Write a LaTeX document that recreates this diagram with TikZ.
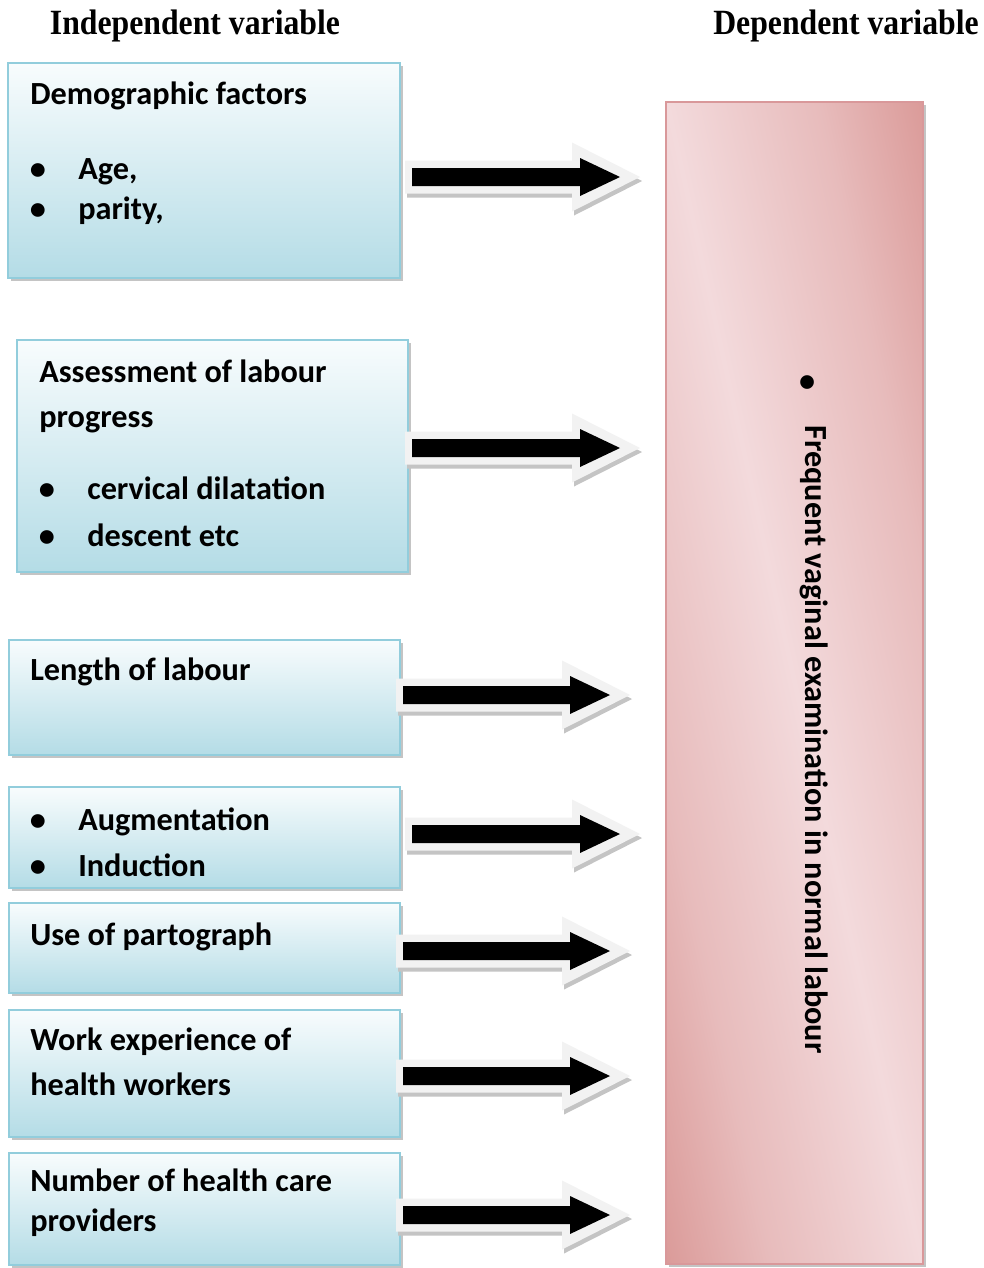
\documentclass[tikz,border=0pt]{standalone}
\usepackage{fontspec}
\setmainfont{Carlito}
\newfontfamily\headfont{Liberation Serif}
\usepackage{graphicx}
\usetikzlibrary{calc,fit,shadows}

\definecolor{boxtop}{HTML}{F8FCFD}
\definecolor{boxbot}{HTML}{B4DCE6}
\definecolor{boxline}{HTML}{92CDDC}
\definecolor{pdark}{HTML}{D99694}
\definecolor{plight}{HTML}{F3DADC}
\definecolor{pline}{HTML}{D9989A}
\definecolor{arrowrim}{HTML}{F2F2F2}
\definecolor{shadowgray}{HTML}{C4C4C4}
\colorlet{pmid}{pdark!45!plight}

\pgfdeclarehorizontalshading{pinkband}{100bp}{color(0bp)=(pdark); color(25bp)=(pdark); color(36bp)=(pmid); color(50bp)=(plight); color(64bp)=(pmid); color(75bp)=(pdark); color(100bp)=(pdark)}

\newcommand{\blockarrow}[2]{%
  \fill[shadowgray] ($(#1)+(2,-12.5)$) -- ($(#2)+(-66,-12.5)$) -- ($(#2)+(-66,-30.5)$) -- ($(#2)+(2,4)$) -- ($(#2)+(-66,38.5)$) -- ($(#2)+(-66,20.5)$) -- ($(#1)+(2,20.5)$) -- cycle;
  \fill[arrowrim] ($(#1)+(0,-16.5)$) -- ($(#2)+(-68,-16.5)$) -- ($(#2)+(-68,-34.5)$) -- (#2) -- ($(#2)+(-68,34.5)$) -- ($(#2)+(-68,16.5)$) -- ($(#1)+(0,16.5)$) -- cycle;
  \fill[black] ($(#1)+(7,-9)$) -- ($(#2)+(-60,-9)$) -- ($(#2)+(-60,-19)$) -- ($(#2)+(-20,0)$) -- ($(#2)+(-60,19)$) -- ($(#2)+(-60,9)$) -- ($(#1)+(7,9)$) -- cycle;
}

\begin{document}
\begin{tikzpicture}[x=0.75pt,y=-0.75pt,
  ibox/.style={inner sep=0pt, draw=boxline, line width=1.5pt, top color=boxtop, bottom color=boxbot,
    drop shadow={shadow xshift=2.25pt, shadow yshift=-2.25pt, fill=shadowgray, opacity=1}},
  txt/.style={anchor=base west, inner sep=0pt, font=\bfseries\fontsize{24.2}{28}\selectfont},
  bul/.style={anchor=base, inner sep=0pt, font=\bfseries\fontsize{24.2}{28}\selectfont},
  head/.style={anchor=base, inner sep=0pt, font=\headfont\bfseries\fontsize{26.6}{30}\selectfont}]

\fill[white] (0,0) rectangle (984,1268);
\useasboundingbox (0,0) rectangle (984,1268);

% headings
\node[head] (hind) at (195,34) {\scalebox{0.895}[1]{Independent variable}};
\node[head] (hdep) at (846,34) {\scalebox{0.895}[1]{Dependent variable}};

% left boxes
\node[ibox, fit={(8,63) (400,278)}] (b1) {};
\node[ibox, fit={(17,340) (408,572)}] (b2) {};
\node[ibox, fit={(9,640) (400,755)}] (b3) {};
\node[ibox, fit={(9,787) (400,888)}] (b4) {};
\node[ibox, fit={(9,903) (400,993)}] (b5) {};
\node[ibox, fit={(9,1010) (400,1137)}] (b6) {};
\node[ibox, fit={(9,1153) (400,1265)}] (b7) {};

% dependent box
\node[inner sep=0pt, draw=pline, line width=1.5pt, fit={(666,102) (923,1264)},
  drop shadow={shadow xshift=2.25pt, shadow yshift=-2.25pt, fill=shadowgray, opacity=1},
  path picture={
    \shade[transform canvas={rotate around={12.4:(path picture bounding box.center)}},
      shading=pinkband]
      ($(path picture bounding box.center)+(-265,-720)$) rectangle ($(path picture bounding box.center)+(265,720)$);
  }] (dep) {};

% texts
\node[txt] (t1a) at (30,104) {Demographic factors};
\node[bul] (t1b) at (38,179) {•};
\node[txt] (t1c) at (78,179) {Age,};
\node[bul] (t1d) at (38,219) {•};
\node[txt] (t1e) at (78,219) {parity,};

\node[txt] (t2a) at (39,382) {Assessment of labour};
\node[txt] (t2b) at (39,427) {progress};
\node[bul] (t2c) at (47,499) {•};
\node[txt] (t2d) at (87,499) {cervical dilatation};
\node[bul] (t2e) at (47,546) {•};
\node[txt] (t2f) at (87,546) {descent etc};

\node[txt] (t3) at (30,680) {Length of labour};

\node[bul] (t4a) at (38,830) {•};
\node[txt] (t4b) at (78,830) {Augmentation};
\node[bul] (t4c) at (38,876) {•};
\node[txt] (t4d) at (78,876) {Induction};

\node[txt] (t5) at (30,945) {Use of partograph};

\node[txt] (t6a) at (30,1050) {Work experience of};
\node[txt] (t6b) at (30,1095) {health workers};

\node[txt] (t7a) at (30,1191) {Number of health care};
\node[txt] (t7b) at (30,1231) {providers};

\node[rotate=-90, inner sep=0pt, font=\bfseries\fontsize{24.2}{28}\selectfont] (depbul) at (806,383) {•};
\node[rotate=-90, anchor=mid west, inner sep=0pt, font=\bfseries\fontsize{24.2}{28}\selectfont] (deptext) at (809,425) {Frequent vaginal examination in normal labour};

% arrows
\coordinate (a1s) at (405,177);  \coordinate (a1e) at (640,177);
\coordinate (a2s) at (405,448);  \coordinate (a2e) at (640,448);
\coordinate (a3s) at (396,695);  \coordinate (a3e) at (630,695);
\coordinate (a4s) at (405,834);  \coordinate (a4e) at (640,834);
\coordinate (a5s) at (396,951);  \coordinate (a5e) at (630,951);
\coordinate (a6s) at (396,1076); \coordinate (a6e) at (630,1076);
\coordinate (a7s) at (396,1215); \coordinate (a7e) at (630,1215);
\blockarrow{a1s}{a1e}
\blockarrow{a2s}{a2e}
\blockarrow{a3s}{a3e}
\blockarrow{a4s}{a4e}
\blockarrow{a5s}{a5e}
\blockarrow{a6s}{a6e}
\blockarrow{a7s}{a7e}
\end{tikzpicture}
\end{document}
